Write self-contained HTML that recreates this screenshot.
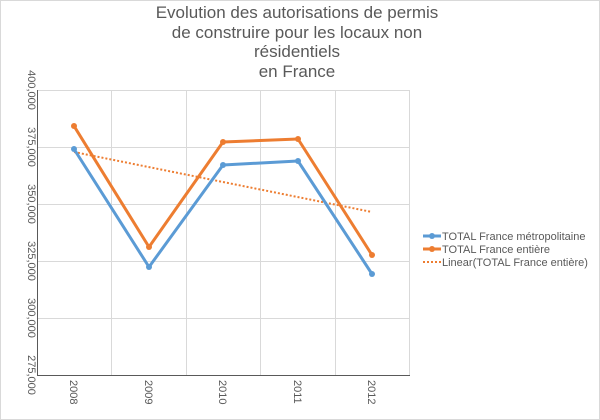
<!DOCTYPE html>
<html><head><meta charset="utf-8"><style>
body{margin:0;background:#fff}
svg{display:block;font-family:"Liberation Sans",sans-serif}
</style></head><body>
<svg width="600" height="420" viewBox="0 0 600 420">
<rect x="0.5" y="0.5" width="599" height="419" fill="#fff" stroke="#d9d9d9"/>
<g fill="#595959" font-size="17" text-anchor="middle">
<text x="297" y="18">Evolution des autorisations de permis</text>
<text x="297" y="38">de construire pour les locaux non</text>
<text x="297" y="57">résidentiels</text>
<text x="297" y="77">en France</text>
</g>
<g stroke="#d9d9d9" stroke-width="1">
<line x1="37" y1="90.5" x2="410" y2="90.5"/>
<line x1="37" y1="147.5" x2="410" y2="147.5"/>
<line x1="37" y1="204.5" x2="410" y2="204.5"/>
<line x1="37" y1="261.5" x2="410" y2="261.5"/>
<line x1="37" y1="318.5" x2="410" y2="318.5"/>
<line x1="111.5" y1="90" x2="111.5" y2="375"/>
<line x1="186.5" y1="90" x2="186.5" y2="375"/>
<line x1="260.5" y1="90" x2="260.5" y2="375"/>
<line x1="335.5" y1="90" x2="335.5" y2="375"/>
<line x1="409.5" y1="90" x2="409.5" y2="375"/>
</g>
<g stroke="#595959" stroke-width="1">
<line x1="37.5" y1="90" x2="37.5" y2="376"/>
<line x1="37" y1="375.5" x2="410" y2="375.5"/>
</g>
<g fill="#595959" font-size="11">
<text transform="translate(28,90) rotate(90)" text-anchor="middle">400,000</text>
<text transform="translate(28,147) rotate(90)" text-anchor="middle">375,000</text>
<text transform="translate(28,204) rotate(90)" text-anchor="middle">350,000</text>
<text transform="translate(28,261) rotate(90)" text-anchor="middle">325,000</text>
<text transform="translate(28,318) rotate(90)" text-anchor="middle">300,000</text>
<text transform="translate(28,375) rotate(90)" text-anchor="middle">275,000</text>
<text transform="translate(70,380) rotate(90)">2008</text>
<text transform="translate(145,380) rotate(90)">2009</text>
<text transform="translate(219,380) rotate(90)">2010</text>
<text transform="translate(294,380) rotate(90)">2011</text>
<text transform="translate(368,380) rotate(90)">2012</text>
</g>
<line x1="74" y1="152" x2="372" y2="212" stroke="#ed7d31" stroke-width="2" stroke-dasharray="2,2"/>
<polyline points="74,149 149,267 223,165 298,161 372,274" fill="none" stroke="#5b9bd5" stroke-width="3" stroke-linejoin="round"/>
<polyline points="74,126 149,247 223,142 298,139 372,255" fill="none" stroke="#ed7d31" stroke-width="3" stroke-linejoin="round"/>
<g fill="#5b9bd5"><circle cx="74" cy="149" r="3"/><circle cx="149" cy="267" r="3"/><circle cx="223" cy="165" r="3"/><circle cx="298" cy="161" r="3"/><circle cx="372" cy="274" r="3"/></g>
<g fill="#ed7d31"><circle cx="74" cy="126" r="3"/><circle cx="149" cy="247" r="3"/><circle cx="223" cy="142" r="3"/><circle cx="298" cy="139" r="3"/><circle cx="372" cy="255" r="3"/></g>
<g font-size="11" fill="#595959">
<line x1="423" y1="236" x2="441" y2="236" stroke="#5b9bd5" stroke-width="3"/><circle cx="432" cy="236" r="3" fill="#5b9bd5"/>
<text x="442" y="240">TOTAL France métropolitaine</text>
<line x1="423" y1="249" x2="441" y2="249" stroke="#ed7d31" stroke-width="3"/><circle cx="432" cy="249" r="3" fill="#ed7d31"/>
<text x="442" y="253">TOTAL France entière</text>
<line x1="423" y1="262" x2="441" y2="262" stroke="#ed7d31" stroke-width="2" stroke-dasharray="2,2"/>
<text x="442" y="266">Linear(TOTAL France entière)</text>
</g>
</svg>
</body></html>
